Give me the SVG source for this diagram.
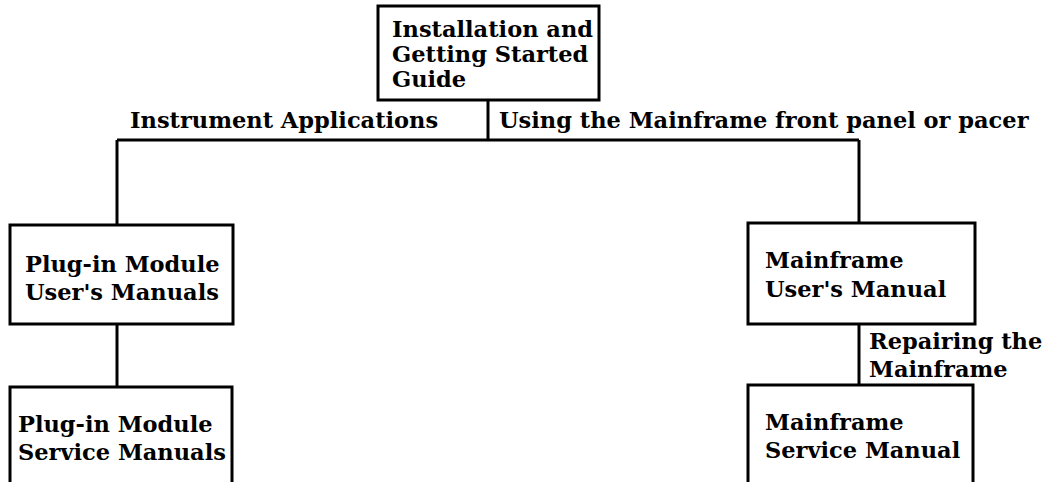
<svg xmlns="http://www.w3.org/2000/svg" width="1046" height="482" viewBox="0 0 1046 482">
  <style>
    .box { fill: #ffffff; stroke: #000000; stroke-width: 3; }
    .wire { fill: none; stroke: #000000; stroke-width: 3; }
    text { font-family: "DejaVu Serif", "Liberation Serif", serif; font-weight: bold; font-size: 22.5px; fill: #000000; }
  </style>
  <rect x="0" y="0" width="1046" height="482" fill="#ffffff"/>

  <g id="connectors">
    <path class="wire" d="M488 100 V140"/>
    <path class="wire" d="M117 140 H859"/>
    <path class="wire" d="M117 140 V225"/>
    <path class="wire" d="M859 140 V223"/>
    <path class="wire" d="M117 324 V387"/>
    <path class="wire" d="M859 324 V385"/>
    <text x="130" y="128">Instrument Applications</text>
    <text x="499" y="128">Using the Mainframe front panel or pacer</text>
    <text x="869" y="349">Repairing the</text>
    <text x="869" y="377">Mainframe</text>
  </g>

  <g id="install-guide">
    <rect class="box" x="378" y="6" width="221" height="94"/>
    <text x="392" y="37">Installation and</text>
    <text x="392" y="62">Getting Started</text>
    <text x="392" y="87">Guide</text>
  </g>

  <g id="plugin-users">
    <rect class="box" x="10" y="225" width="223" height="99"/>
    <text x="25" y="272">Plug-in Module</text>
    <text x="25" y="300">User's Manuals</text>
  </g>

  <g id="plugin-service">
    <rect class="box" x="10" y="387" width="222" height="110"/>
    <text x="18" y="432">Plug-in Module</text>
    <text x="18" y="460">Service Manuals</text>
  </g>

  <g id="mainframe-users">
    <rect class="box" x="748" y="223" width="227" height="101"/>
    <text x="765" y="268">Mainframe</text>
    <text x="765" y="297">User's Manual</text>
  </g>

  <g id="mainframe-service">
    <rect class="box" x="748" y="385" width="225" height="112"/>
    <text x="765" y="430">Mainframe</text>
    <text x="765" y="458">Service Manual</text>
  </g>
</svg>
